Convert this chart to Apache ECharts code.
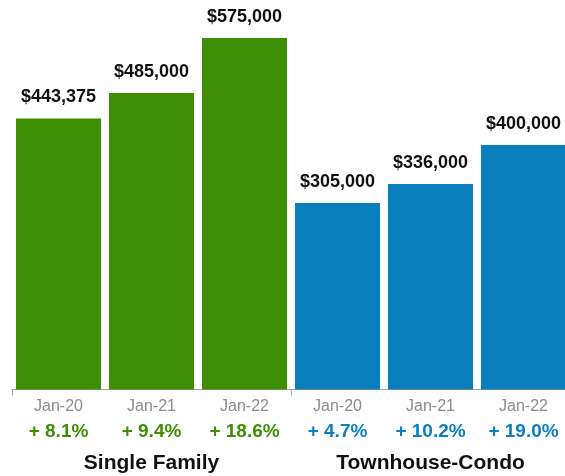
<!DOCTYPE html>
<html>
<head>
<meta charset="utf-8">
<script src="https://cdn.jsdelivr.net/npm/echarts@6/dist/echarts.min.js"></script>
<style>
  html, body { margin: 0; padding: 0; background: #fff; }
  #chart { width: 565px; height: 476px; }
</style>
</head>
<body>
<div id="chart"></div>
<script>
// chart data
const categories = ['Jan-20', 'Jan-21', 'Jan-22', 'Jan-20', 'Jan-21', 'Jan-22']
const prices = [443375, 485000, 575000, 305000, 336000, 400000]
const changes = ['+ 8.1%', '+ 9.4%', '+ 18.6%', '+ 4.7%', '+ 10.2%', '+ 19.0%']
const groups = ['Single Family', 'Townhouse-Condo']
const groupOf = [0, 0, 0, 1, 1, 1]

const GREEN = '#3e8e03'
const BLUE = '#0a7fbe'
const FONT = '"Liberation Sans", Arial, Helvetica, sans-serif'

const chart = echarts.init(document.getElementById('chart'))

const options = {
  animation: false,
  // plot runs a little past the right edge, like the original
  grid: { left: 12, width: 558, top: 38, bottom: 86.5, outerBoundsMode: 'none' },
  xAxis: [
    {
      type: 'category',
      data: categories,
      axisLine: { show: false },
      axisTick: { show: false },
      axisLabel: {
        margin: 5,
        interval: 0,
        formatter: (v, i) => {
          const key = groupOf[i] === 0 ? 'pg' : 'pb'
          return '{d|' + v + '}\n{' + key + '|' + changes[i] + '}'
        },
        rich: {
          d: { color: '#8c8c8c', fontSize: 16, lineHeight: 25, fontFamily: FONT },
          pg: { color: GREEN, fontSize: 19, fontWeight: 'bold', lineHeight: 25, fontFamily: FONT },
          pb: { color: BLUE, fontSize: 19, fontWeight: 'bold', lineHeight: 25, fontFamily: FONT }
        }
      }
    },
    {
      type: 'category',
      position: 'bottom',
      data: groups,
      axisLine: { show: true, lineStyle: { color: '#a0a0a0', width: 1 } },
      axisTick: { show: true, length: 6, lineStyle: { color: '#a0a0a0' } },
      axisLabel: {
        margin: 63,
        color: '#111',
        fontSize: 21,
        fontWeight: 'bold',
        lineHeight: 22,
        fontFamily: FONT
      }
    }
  ],
  yAxis: {
    type: 'value',
    min: 0,
    max: 575000,
    show: false,
    splitLine: { show: false }
  },
  series: [
    {
      type: 'bar',
      xAxisIndex: 0,
      barWidth: 85,
      data: prices.map((v, i) => ({
        value: v,
        itemStyle: { color: groupOf[i] === 0 ? GREEN : BLUE }
      })),
      label: {
        show: true,
        position: 'top',
        distance: 12,
        color: '#111',
        fontSize: 18,
        fontWeight: 'bold',
        fontFamily: FONT,
        formatter: p => '$' + p.value.toLocaleString('en-US')
      }
    }
  ]
}

chart.setOption(options)
</script>
</body>
</html>
